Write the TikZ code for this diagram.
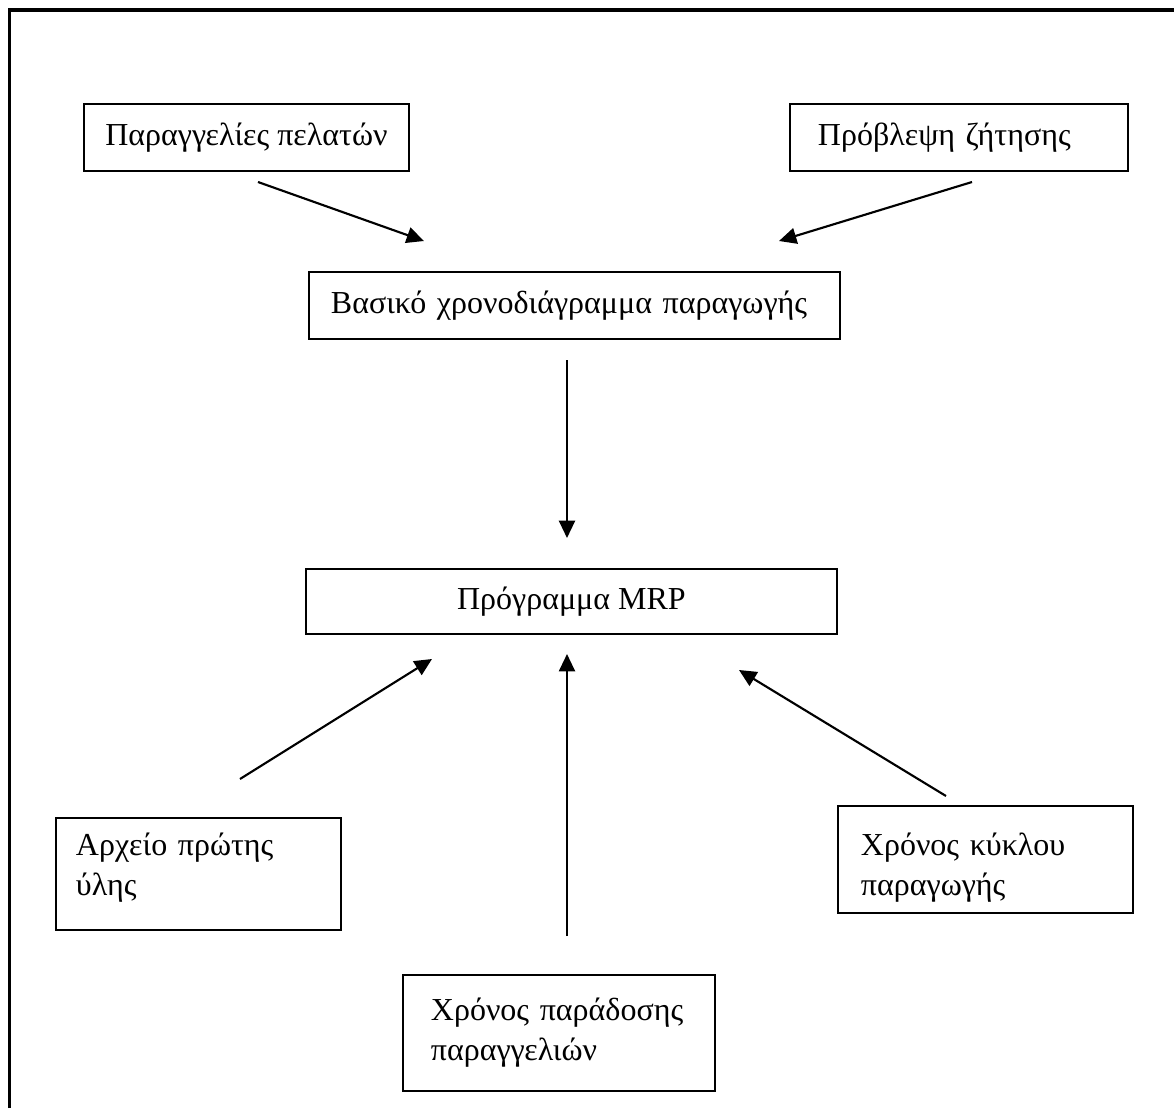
\documentclass[tikz,border=0pt]{standalone}
\usepackage{fontspec}
\setmainfont{Liberation Serif}
\usetikzlibrary{arrows.meta}
\begin{document}
\begin{tikzpicture}[x=0.75pt,y=-0.75pt,
  box/.style={draw,line width=1.4pt,anchor=north west,inner ysep=0pt,
    font=\fontsize{24}{30}\selectfont},
  arr/.style={line width=1.6pt,-{Triangle[length=13pt,width=12pt]}}]
\useasboundingbox (0,0) rectangle (1174,1108);
\draw[line width=2.3pt] (9.5,1108) -- (9.5,10) -- (1174,10);

\node[box,align=center,inner xsep=0pt,minimum width=243.75pt,minimum height=50.25pt] (po) at (83,103) {Παραγγελίες πελατών};
\node[box,align=left,inner xsep=21pt,text width=211.5pt,minimum height=50.25pt] (dem) at (789,103) {Πρόβλεψη ζήτησης};
\node[box,align=left,inner xsep=16.5pt,text width=365.25pt,minimum height=50.25pt] (mps) at (308,271) {Βασικό χρονοδιάγραμμα παραγωγής};
\node[box,align=center,inner xsep=0pt,minimum width=398.25pt,minimum height=48.75pt] (mrp) at (305,568) {Πρόγραμμα MRP};
\node[box,align=left,inner xsep=15pt,text width=183.75pt,minimum height=84pt,text height=1.5pt,text depth=28.5pt] (bom) at (55,817) {Αρχείο πρώτης\\ύλης};
\node[box,align=left,inner xsep=17.25pt,text width=186.75pt,minimum height=80.25pt,text height=12.4pt,text depth=17.6pt] (cyc) at (837,805) {Χρόνος κύκλου\\παραγωγής};
\node[box,align=left,inner xsep=21pt,text width=192pt,minimum height=87pt] (lead) at (402,974) {Χρόνος παράδοσης\\παραγγελιών};

\coordinate (a1s) at (258,182); \coordinate (a1e) at (424,241);
\coordinate (a2s) at (972,182); \coordinate (a2e) at (779,241);
\coordinate (a3s) at (567,360); \coordinate (a3e) at (567,538);
\coordinate (a4s) at (240,779); \coordinate (a4e) at (432,659);
\coordinate (a5s) at (567,936); \coordinate (a5e) at (567,654);
\coordinate (a6s) at (946,796); \coordinate (a6e) at (739,670);
\draw[arr] (a1s) -- (a1e);
\draw[arr] (a2s) -- (a2e);
\draw[arr] (a3s) -- (a3e);
\draw[arr] (a4s) -- (a4e);
\draw[arr] (a5s) -- (a5e);
\draw[arr] (a6s) -- (a6e);
\end{tikzpicture}
\end{document}
